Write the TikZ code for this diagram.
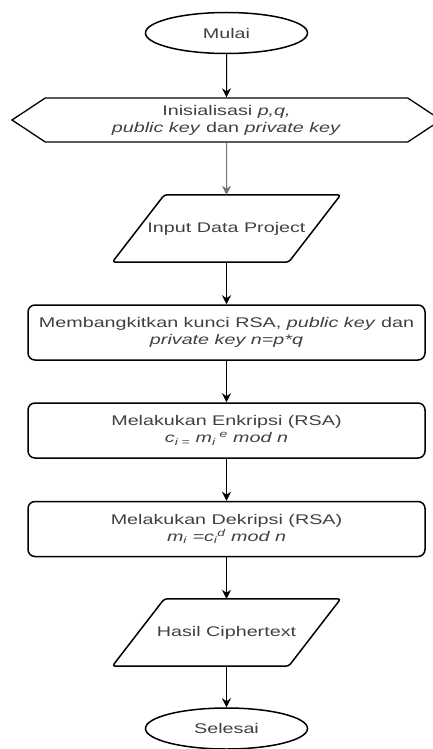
\documentclass[tikz,border=0pt]{standalone}
\usepackage{fontspec}
\setmainfont{Liberation Sans}[FakeStretch=1.41]
\usetikzlibrary{arrows.meta,positioning,shapes.geometric,shapes.symbols}

\begin{document}
\begin{tikzpicture}[x=1pt, y=-1pt,
    every node/.style={font=\fontsize{14}{17}\selectfont, text=black!75, align=center},
    term/.style={draw=black, ellipse, line width=1.5pt, minimum width=162pt, minimum height=41pt, inner sep=0pt},
    proc/.style={draw=black, rounded corners=7pt, line width=1.5pt, minimum width=397pt, minimum height=55pt, inner sep=0pt},
    io/.style={minimum width=176pt, minimum height=67pt, inner sep=0pt},
    ioframe/.style={draw=black, rounded corners=3pt, line width=1.5pt},
    prep/.style={draw=black, signal, signal to=west and east, signal pointer angle=67, line width=1.3pt,
        minimum width=429pt, minimum height=44pt, inner sep=0pt},
    arr/.style={-{Stealth[length=9pt,width=9pt]}, line width=1pt}]
    \useasboundingbox (0,0) rectangle (433,749);

    % Start and initialisation
    \node[term] (mulai) at (226.5,33) {Mulai};
    \node[prep] (init) at (226.5,120) {Inisialisasi \textit{p,q,}\\\textit{public key} dan \textit{private key}};

    % Input
    \node[io] (input) at (226.5,228.5) {Input Data Project};

    % RSA steps
    \node[proc] (kunci) at (226.5,332.5) {Membangkitkan kunci RSA, \textit{public key} dan\\\textit{private key n=p*q}};
    \node[proc] (enkripsi) at (226.5,430.5) {Melakukan Enkripsi (RSA)\\\textit{c\textsubscript{i =} m\textsubscript{i}\textsuperscript{ e} mod n}};
    \node[proc] (dekripsi) at (226.5,529) {Melakukan Dekripsi (RSA)\\\textit{m\textsubscript{i} =c\textsubscript{i}\textsuperscript{d} mod n}};

    % Output and end
    \node[io] (hasil) at (226.5,632.5) {Hasil Ciphertext};
    \node[term] (selesai) at (226.5,728.5) {Selesai};

    % Parallelogram frames of the data nodes
    \foreach \n in {input,hasil}
        \draw[ioframe] ([xshift=-26pt]\n.south west) -- ([xshift=26pt]\n.north west)
            -- ([xshift=26pt]\n.north east) -- ([xshift=-26pt]\n.south east) -- cycle;

    \draw[arr] (mulai) -- (init);
    \draw[arr, black!55] (init) -- (input);
    \draw[arr] (input) -- (kunci);
    \draw[arr] (kunci) -- (enkripsi);
    \draw[arr] (enkripsi) -- (dekripsi);
    \draw[arr] (dekripsi) -- (hasil);
    \draw[arr] (hasil) -- (selesai);
\end{tikzpicture}
\end{document}
